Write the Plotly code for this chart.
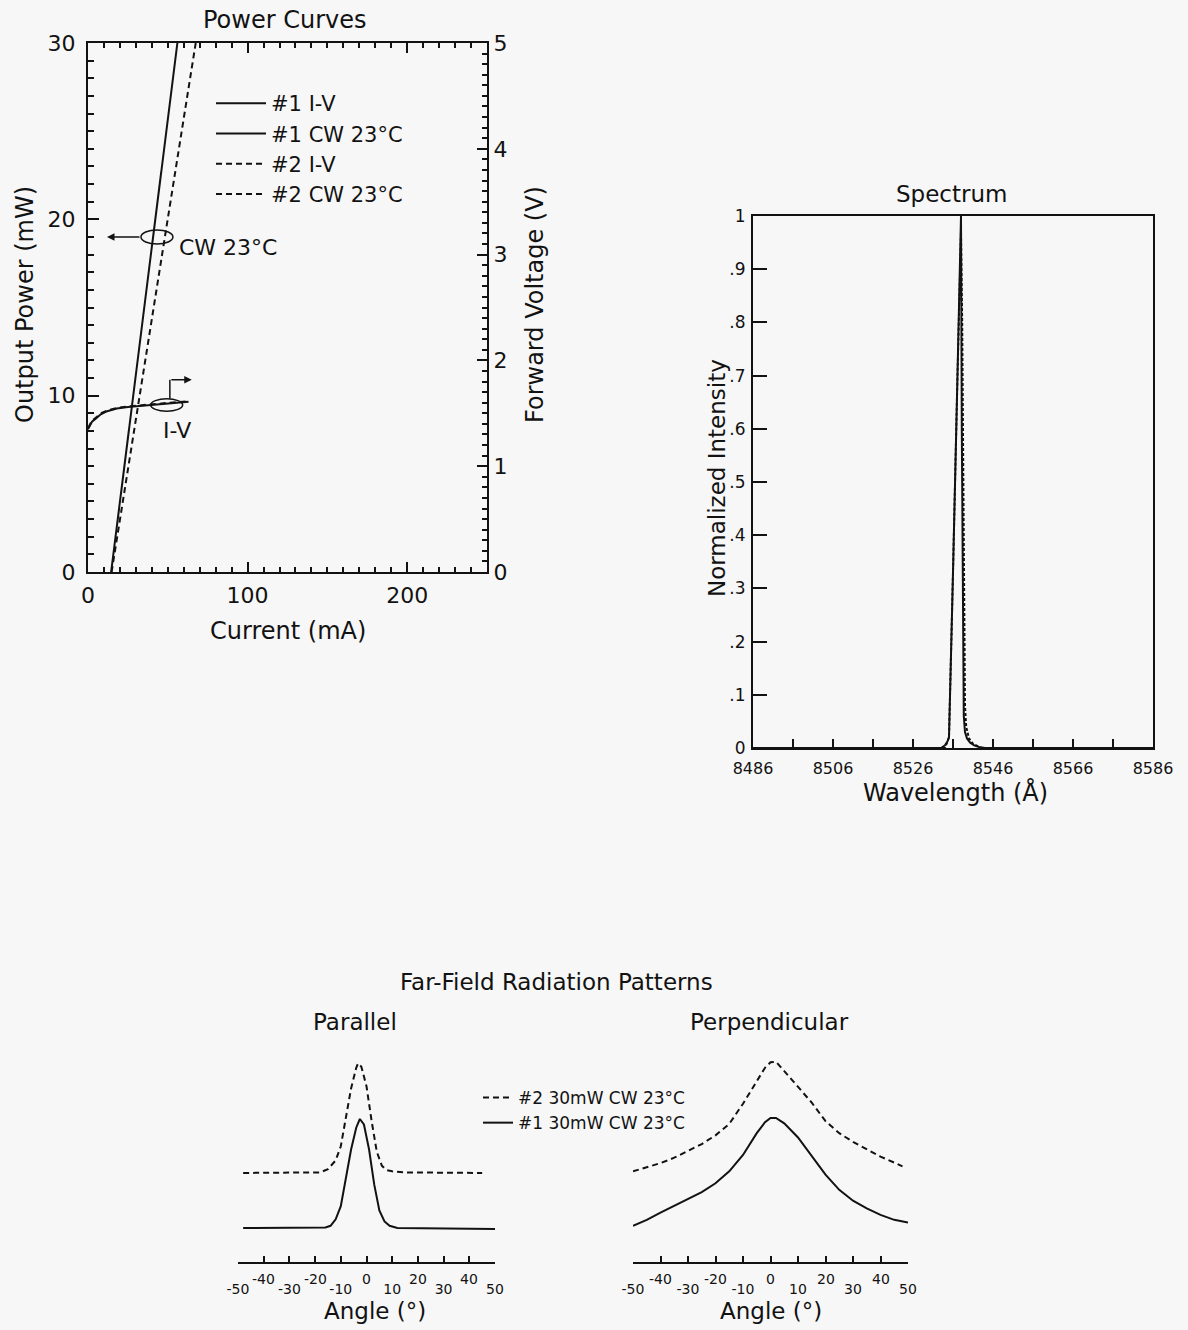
import plotly.graph_objects as go

# ---------------- data ----------------
# Power curves (current in mA, power in mW, voltage in V)
cw1_current = [14.5, 56.0]
cw1_power = [0.0, 30.0]
cw2_current = [14.8, 67.5]
cw2_power = [0.0, 30.0]
iv_current = [0, 1, 2.5, 5, 8, 12, 18, 25, 32, 40, 48, 56, 63]
iv1_voltage = [1.35, 1.38, 1.42, 1.45, 1.49, 1.52, 1.545, 1.56, 1.57, 1.58, 1.59, 1.60, 1.61]
iv2_voltage = [1.36, 1.39, 1.43, 1.46, 1.50, 1.525, 1.55, 1.565, 1.575, 1.585, 1.595, 1.605, 1.615]

# Spectrum (wavelength in Angstrom, normalized intensity)
spec1_wl = [8486, 8530, 8533, 8534, 8534.6, 8535.0, 8535.3, 8536.0, 8537.0, 8537.8, 8538.0,
            8538.2, 8538.45, 8538.7, 8539.0, 8539.5, 8540.3, 8541.3, 8542.5, 8544.0, 8586]
spec1_int = [0, 0, 0.0, 0.005, 0.012, 0.02, 0.1, 0.33, 0.66, 0.93, 1.0,
             0.6, 0.2, 0.06, 0.03, 0.018, 0.01, 0.005, 0.002, 0.0, 0]
spec2_wl = [8486, 8534.0, 8535.0, 8535.3, 8536.0, 8537.0, 8537.8, 8538.0, 8538.3, 8538.6,
            8538.8, 8539.0, 8539.3, 8540.0, 8541.0, 8543.0, 8586]
spec2_int = [0, 0, 0.02, 0.1, 0.33, 0.66, 0.93, 0.97, 0.8, 0.45, 0.2, 0.08, 0.04, 0.018,
             0.008, 0, 0]
spec_label_ticks = [8486, 8506, 8526, 8546, 8566, 8586]
spec_y_ticks = [0, 0.1, 0.2, 0.3, 0.4, 0.5, 0.6, 0.7, 0.8, 0.9, 1.0]
spec_y_labels = ["0", ".1", ".2", ".3", ".4", ".5", ".6", ".7", ".8", ".9", "1"]

# Far-field patterns (angle in degrees, relative intensity, traces offset)
par1_angle = [-48, -30, -18, -16, -14, -12, -10, -8, -6, -4, -2.6, -1, 1, 3, 5, 7, 9, 12, 30, 50]
par1_int = [0.0, 0.0, 0.0, 0.005, 0.02, 0.08, 0.2, 0.45, 0.72, 0.92, 1.0, 0.95, 0.72, 0.4, 0.16,
            0.06, 0.02, 0.0, -0.005, -0.01]
par2_angle = [-48, -30, -20, -18, -15, -12, -10, -8, -6, -4, -3.3, -2, 0, 2, 4, 6, 8, 10, 15, 45]
par2_int = [0.505, 0.505, 0.505, 0.51, 0.54, 0.62, 0.75, 1.0, 1.28, 1.47, 1.51, 1.48, 1.3, 0.98,
            0.7, 0.57, 0.53, 0.52, 0.51, 0.505]
perp1_angle = [-50, -45, -40, -35, -30, -25, -20, -15, -10, -5, -2, 0, 2, 5, 10, 15, 20, 25,
               30, 35, 40, 45, 50]
perp1_int = [0.02, 0.075, 0.14, 0.205, 0.265, 0.33, 0.41, 0.52, 0.67, 0.87, 0.97, 1.01, 1.01,
             0.96, 0.83, 0.66, 0.49, 0.35, 0.25, 0.18, 0.12, 0.075, 0.05]
perp2_angle = [-50, -45, -40, -35, -30, -25, -20, -15, -10, -5, -2, 0, 2, 5, 10, 15, 20, 25,
               30, 35, 40, 45, 48]
perp2_int = [0.52, 0.555, 0.595, 0.645, 0.705, 0.77, 0.85, 0.955, 1.14, 1.34, 1.47, 1.52, 1.525,
             1.44, 1.30, 1.15, 0.98, 0.87, 0.79, 0.72, 0.655, 0.6, 0.565]
angle_ticks = [-50, -40, -30, -20, -10, 0, 10, 20, 30, 40, 50]
angle_low_labels = ["-50", "", "-30", "", "-10", "", "10", "", "30", "", "50"]
angle_high_vals = [-40, -20, 0, 20, 40]
angle_high_labels = ["-40", "-20", "0", "20", "40"]

# ---------------- style ----------------
W, H = 1188, 1330
FONT = "DejaVu Sans"
INK = "#121212"
BG = "#f7f7f7"
DASH = "6px,4px"


def px(x):
    return x / W


def py(y):
    return 1 - y / H


fig = go.Figure()

# Power curves
fig.add_trace(go.Scatter(x=iv_current, y=iv1_voltage, xaxis="x", yaxis="y2", mode="lines",
                         line=dict(color=INK, width=2), name="#1 I-V", legend="legend"))
fig.add_trace(go.Scatter(x=cw1_current, y=cw1_power, xaxis="x", yaxis="y", mode="lines",
                         line=dict(color=INK, width=2), name="#1 CW 23°C", legend="legend"))
fig.add_trace(go.Scatter(x=iv_current, y=iv2_voltage, xaxis="x", yaxis="y2", mode="lines",
                         line=dict(color=INK, width=2, dash=DASH), name="#2 I-V", legend="legend"))
fig.add_trace(go.Scatter(x=cw2_current, y=cw2_power, xaxis="x", yaxis="y", mode="lines",
                         line=dict(color=INK, width=2, dash=DASH), name="#2 CW 23°C", legend="legend"))

# Spectrum (dashed drawn first so the solid covers it where they coincide)
fig.add_trace(go.Scatter(x=spec2_wl, y=spec2_int, xaxis="x2", yaxis="y3", mode="lines",
                         line=dict(color=INK, width=2, dash="3px,2px"), showlegend=False))
fig.add_trace(go.Scatter(x=spec1_wl, y=spec1_int, xaxis="x2", yaxis="y3", mode="lines",
                         line=dict(color=INK, width=2), showlegend=False))

# Far field
fig.add_trace(go.Scatter(x=par2_angle, y=par2_int, xaxis="x3", yaxis="y4", mode="lines",
                         line=dict(color=INK, width=2, dash=DASH), name="#2 30mW CW 23°C",
                         legend="legend2"))
fig.add_trace(go.Scatter(x=par1_angle, y=par1_int, xaxis="x3", yaxis="y4", mode="lines",
                         line=dict(color=INK, width=2), name="#1 30mW CW 23°C",
                         legend="legend2"))
fig.add_trace(go.Scatter(x=perp2_angle, y=perp2_int, xaxis="x4", yaxis="y5", mode="lines",
                         line=dict(color=INK, width=2, dash=DASH), showlegend=False))
fig.add_trace(go.Scatter(x=perp1_angle, y=perp1_int, xaxis="x4", yaxis="y5", mode="lines",
                         line=dict(color=INK, width=2), showlegend=False))

axis_common = dict(showgrid=False, zeroline=False, showline=True, linecolor=INK, linewidth=2,
                   tickcolor=INK, tickwidth=1.5, ticks="inside", automargin=False,
                   tickfont=dict(family=FONT, size=22, color=INK))

ff_y_range = [-0.312, 1.633]

fig.update_layout(
    width=W, height=H, autosize=False,
    margin=dict(l=0, r=0, t=0, b=0, pad=0),
    paper_bgcolor=BG, plot_bgcolor=BG,
    font=dict(family=FONT, color=INK),
    xaxis=dict(axis_common, domain=[px(88), px(487)], range=[0, 250], anchor="y",
               mirror="ticks", tick0=0, dtick=100, ticklen=10, ticklabelstandoff=3,
               minor=dict(dtick=10, ticklen=5, ticks="inside", tickcolor=INK, tickwidth=1.5)),
    yaxis=dict(axis_common, domain=[py(572), py(43)], range=[0, 30], anchor="x",
               tick0=0, dtick=10, ticklen=11, ticklabelstandoff=6,
               minor=dict(dtick=1, ticklen=6, ticks="inside", tickcolor=INK, tickwidth=1.5)),
    yaxis2=dict(axis_common, overlaying="y", side="right", anchor="x", range=[0, 5],
                tick0=0, dtick=1, ticklen=10, ticklabelstandoff=0,
                minor=dict(dtick=0.1, ticklen=5, ticks="inside", tickcolor=INK, tickwidth=1.5)),
    xaxis2=dict(axis_common, domain=[px(753), px(1153)], range=[8486, 8586], anchor="y3",
                mirror=True, tickmode="array", tickvals=spec_label_ticks, ticklen=9,
                ticklabelstandoff=5,
                minor=dict(dtick=10, tick0=8486, ticklen=9, ticks="inside", tickcolor=INK,
                           tickwidth=1.5),
                tickfont=dict(family=FONT, size=16, color=INK)),
    yaxis3=dict(axis_common, domain=[py(748), py(216)], range=[0, 1], anchor="x2",
                mirror=True, tickmode="array", tickvals=spec_y_ticks, ticktext=spec_y_labels,
                ticklen=14, ticklabelstandoff=2,
                tickfont=dict(family=FONT, size=17, color=INK)),
    xaxis3=dict(axis_common, domain=[px(238), px(495)], range=[-50, 50], anchor="y4",
                tickmode="array", tickvals=angle_ticks, ticktext=angle_low_labels, ticklen=6,
                linewidth=1.5, ticklabelstandoff=13,
                tickfont=dict(family=FONT, size=14, color=INK)),
    yaxis4=dict(domain=[py(1262), py(1050)], range=ff_y_range, anchor="x3", visible=False),
    xaxis4=dict(axis_common, domain=[px(633), px(908)], range=[-50, 50], anchor="y5",
                tickmode="array", tickvals=angle_ticks, ticktext=angle_low_labels, ticklen=6,
                linewidth=1.5, ticklabelstandoff=13,
                tickfont=dict(family=FONT, size=14, color=INK)),
    yaxis5=dict(domain=[py(1262), py(1050)], range=ff_y_range, anchor="x4", visible=False),
    legend=dict(x=px(211), y=py(83), xanchor="left", yanchor="top", bgcolor="rgba(0,0,0,0)",
                font=dict(family=FONT, size=21, color=INK), tracegroupgap=0, itemwidth=50),
    legend2=dict(x=px(478), y=py(1080), xanchor="left", yanchor="top",
                 bgcolor="rgba(0,0,0,0)", font=dict(family=FONT, size=17, color=INK),
                 tracegroupgap=0),
)

annotations = []
# panel titles and axis titles
for text, x, y, size, ang in [("Power Curves", 285, 20, 24, 0), ("Spectrum", 951, 194, 23, 0),
                              ("Far-Field Radiation Patterns", 556, 982, 23, 0),
                              ("Parallel", 355, 1022, 23, 0), ("Perpendicular", 769, 1022, 23, 0),
                              ("Current (mA)", 288, 631, 24, 0),
                              ("Output Power (mW)", 25, 305, 24, -90),
                              ("Forward Voltage (V)", 535, 305, 24, -90),
                              ("Normalized Intensity", 717, 478, 23, -90),
                              ("Wavelength (Å)", 955, 793, 24, 0),
                              ("Angle (°)", 375, 1311, 23, 0),
                              ("Angle (°)", 771, 1311, 23, 0)]:
    annotations.append(dict(text=text, x=px(x), y=py(y), xref="paper", yref="paper",
                            showarrow=False, xanchor="center", yanchor="middle", textangle=ang,
                            font=dict(family=FONT, size=size, color=INK)))

# raised angle tick labels
for xa in ["x3", "x4"]:
    for v, t in zip(angle_high_vals, angle_high_labels):
        annotations.append(dict(text=t, x=v, y=py(1279), xref=xa, yref="paper", showarrow=False,
                                xanchor="center", yanchor="middle",
                                font=dict(family=FONT, size=14, color=INK)))

# power-curve callouts
annotations += [
    dict(text="CW 23°C", x=56, y=18.4, xref="x", yref="y", showarrow=False, xanchor="left",
         yanchor="middle", font=dict(family=FONT, size=22, color=INK)),
    dict(text="I-V", x=55.7, y=8.05, xref="x", yref="y", showarrow=False, xanchor="center",
         yanchor="middle", font=dict(family=FONT, size=22, color=INK)),
    dict(text="", x=11.9, y=19.0, ax=33.2, ay=19.0, xref="x", yref="y", axref="x", ayref="y",
         showarrow=True, arrowhead=2, arrowsize=1, arrowwidth=1.5, arrowcolor=INK),
    dict(text="", x=65, y=10.9, ax=51.3, ay=10.9, xref="x", yref="y", axref="x", ayref="y",
         showarrow=True, arrowhead=2, arrowsize=1, arrowwidth=1.5, arrowcolor=INK),
]
fig.update_layout(annotations=annotations)

fig.update_layout(shapes=[
    dict(type="circle", xref="x", yref="y", x0=33.2, x1=53.2, y0=18.6, y1=19.4,
         line=dict(color=INK, width=1.5)),
    dict(type="circle", xref="x", yref="y", x0=39.3, x1=59.3, y0=9.12, y1=9.82,
         line=dict(color=INK, width=1.5)),
    dict(type="line", xref="x", yref="y", x0=51.3, x1=51.3, y0=9.82, y1=10.9,
         line=dict(color=INK, width=1.5)),
])

fig.write_html("out.html")
